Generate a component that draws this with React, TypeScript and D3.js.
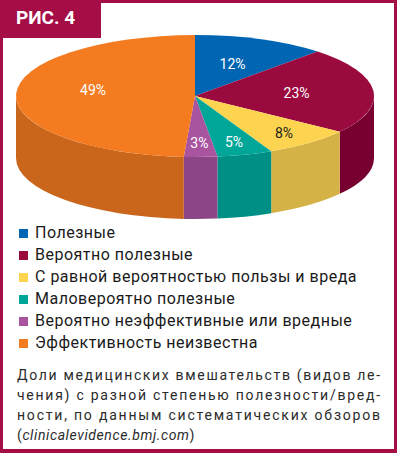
import { useMemo } from "react";
import * as d3 from "d3";

const WIDTH = 397;
const HEIGHT = 453;

const categories = [
  "Полезные",
  "Вероятно полезные",
  "С равной вероятностью пользы и вреда",
  "Маловероятно полезные",
  "Вероятно неэффективные или вредные",
  "Эффективность неизвестна",
];
const shares = [12, 23, 8, 5, 3, 49];
const topColors = ["#0066b3", "#9b0a3f", "#fdd44f", "#00a698", "#a8549f", "#f47b20"];
const sideColors = ["#004f8c", "#780030", "#d5b246", "#008f84", "#8c4685", "#c9661c"];
const labelColors = ["#fff", "#fff", "#1a1a1a", "#fff", "#fff", "#fff"];

const title = "РИС. 4";
const captionLines = [
  "Доли медицинских вмешательств (видов ле-",
  "чения) с разной степенью полезности/вред-",
  "ности, по данным систематических обзоров",
];
const captionSource = "clinicalevidence.bmj.com";

const FRAME = "#a50d46";
const PIE = { cx: 195, cy: 96, rx: 179, ry: 61, depth: 62 };

export default function App() {
  const arcs = useMemo(
    () =>
      d3
        .pie<number>()
        .sort(null)
        .startAngle(0)
        .endAngle(2 * Math.PI)(shares),
    []
  );

  const pt = (a: number, dy = 0) => [
    PIE.rx * Math.sin(a),
    -PIE.ry * Math.cos(a) + dy,
  ];

  // elliptical top slice
  const topPath = (a0: number, a1: number) => {
    const [x0, y0] = pt(a0);
    const [x1, y1] = pt(a1);
    const large = a1 - a0 > Math.PI ? 1 : 0;
    return `M0,0L${x0},${y0}A${PIE.rx},${PIE.ry} 0 ${large} 1 ${x1},${y1}Z`;
  };

  // front wall, only the part between 90° and 270° is visible
  const sidePath = (s: number, e: number) => {
    const a0 = Math.max(s, Math.PI / 2);
    const a1 = Math.min(e, (3 * Math.PI) / 2);
    if (a1 <= a0) return null;
    const [x0, y0] = pt(a0);
    const [x1, y1] = pt(a1);
    const [, y1b] = pt(a1, PIE.depth);
    const [, y0b] = pt(a0, PIE.depth);
    return `M${x0},${y0}A${PIE.rx},${PIE.ry} 0 0 1 ${x1},${y1}L${x1},${y1b}A${PIE.rx},${PIE.ry} 0 0 0 ${x0},${y0b}Z`;
  };

  const labelPos = (d: d3.PieArcDatum<number>) => {
    const mid = (d.startAngle + d.endAngle) / 2;
    const k = d.data >= 10 ? 0.57 : 0.78;
    const [x, y] = pt(mid);
    return [x * k, y * k - (d.data > 40 ? 5 : 0)];
  };

  return (
    <>
      <style>{`body{margin:0}`}</style>
      <svg width={WIDTH} height={HEIGHT} style={{ display: "block" }}>
        <rect width={WIDTH} height={HEIGHT} fill="#fff" />
        <rect
          x={1.5}
          y={1.5}
          width={WIDTH - 3}
          height={HEIGHT - 4}
          fill="none"
          stroke={FRAME}
          strokeWidth={3}
        />
        <rect x={0} y={HEIGHT - 4} width={WIDTH} height={4} fill={FRAME} />
        <rect x={0} y={0} width={101} height={38} fill={FRAME} />
        <text
          x={16}
          y={24}
          fill="#fff"
          fontFamily="Roboto, sans-serif"
          fontWeight={700}
          fontSize={19}
        >
          {title}
        </text>

        <g transform={`translate(${PIE.cx},${PIE.cy})`}>
          {arcs.map((d, i) => {
            const p = sidePath(d.startAngle, d.endAngle);
            return p ? <path key={"s" + i} d={p} fill={sideColors[i]} /> : null;
          })}
          {arcs.map((d, i) => (
            <path
              key={"t" + i}
              d={topPath(d.startAngle, d.endAngle)}
              fill={topColors[i]}
            />
          ))}
          {arcs.map((d, i) => {
            const [x, y] = labelPos(d);
            return (
              <text
                key={"l" + i}
                x={x}
                y={y}
                dy="0.35em"
                textAnchor="middle"
                fill={labelColors[i]}
                fontFamily="Roboto, sans-serif"
                fontSize={14}
              >
                {d.data}%
              </text>
            );
          })}
        </g>

        <g
          fontFamily="Roboto, sans-serif"
          fontSize={16}
          letterSpacing={0.5}
          fill="#1a1a1a"
        >
          {categories.map((c, i) => (
            <g key={c} transform={`translate(19,${238 + i * 22})`}>
              <rect x={0} y={-9} width={9} height={9} fill={topColors[i]} />
              <text x={16} y={0}>
                {c}
              </text>
            </g>
          ))}
        </g>

        <g fontFamily="Roboto, sans-serif" fontSize={14} fill="#2b2b2b">
          {captionLines.map((line, i) => (
            <text
              key={i}
              x={17}
              y={380 + i * 20}
              textLength={363}
              lengthAdjust="spacing"
            >
              {line}
            </text>
          ))}
          <text x={17} y={440} letterSpacing={0.6}>
            (<tspan fontStyle="italic">{captionSource}</tspan>)
          </text>
        </g>
      </svg>
    </>
  );
}
